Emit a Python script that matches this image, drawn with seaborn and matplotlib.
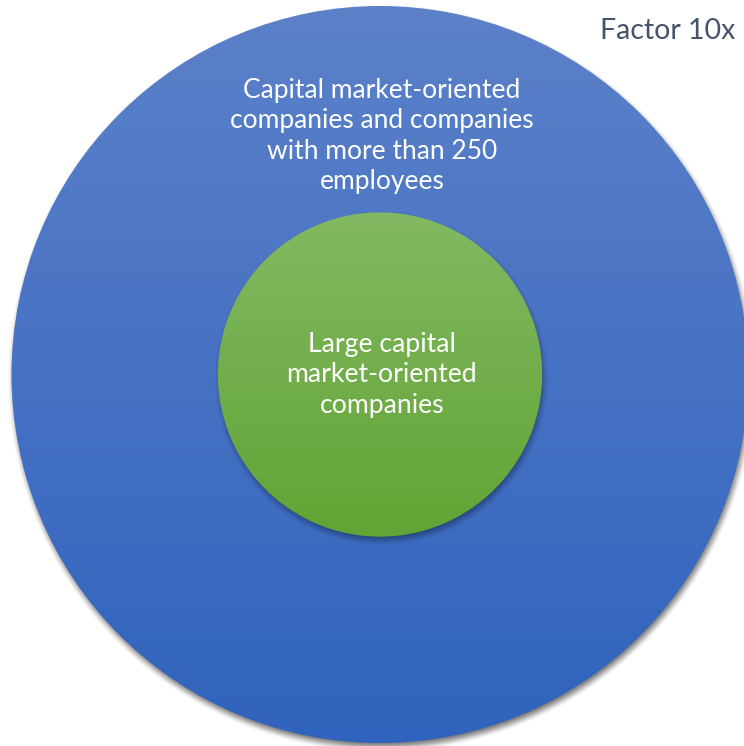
import numpy as np
import matplotlib
matplotlib.use("Agg")
import matplotlib.pyplot as plt
from matplotlib.patches import Circle
import seaborn as sns

# ---- data ----
labels = ["Capital market-oriented\ncompanies and companies\nwith more than 250\nemployees",
          "Large capital\nmarket-oriented\ncompanies"]
rel_size = [1.0, 0.44]          # relative radius of each group
top_colors = ["#5c81c9", "#82b962"]
bottom_colors = ["#3063bd", "#62a435"]
factor_label = "Factor 10x"

sns.set_theme(style="white")
plt.rcParams['font.family'] = ['Lato', 'DejaVu Sans']

W, H = 744, 746
fig = plt.figure(figsize=(W / 100, H / 100), dpi=100)
ax = fig.add_axes([0, 0, 1, 1])
ax.set_xlim(0, W)
ax.set_ylim(H, 0)
ax.axis("off")

cx, cy = 380, 374.5
R0 = 368.5
yy, xx = np.mgrid[0:H, 0:W] + 0.5


def hex2rgb(h):
    return np.array(matplotlib.colors.to_rgb(h))


def smooth(a, b, x):
    t = np.clip((x - a) / (b - a), 0, 1)
    return t * t * (3 - 2 * t)


for i, (lab, s) in enumerate(zip(labels, rel_size)):
    R = R0 * s
    # shadow
    d = np.hypot(xx - (cx + 1.5), yy - (cy + 4))
    alpha = (0.55 if i == 0 else 0.35) * (1 - smooth(R - 6, R + 6, d))
    sh = np.zeros((H, W, 4))
    sh[..., 3] = alpha
    ax.imshow(sh, extent=[0, W, H, 0], zorder=2 * i + 1, interpolation="bilinear")
    # gradient fill
    t = np.clip((yy - (cy - R)) / (2 * R), 0, 1)[..., None]
    c = hex2rgb(top_colors[i]) * (1 - t) + hex2rgb(bottom_colors[i]) * t
    img = np.concatenate([c, np.ones((H, W, 1))], axis=2)
    im = ax.imshow(img, extent=[0, W, H, 0], zorder=2 * i + 2, interpolation="bilinear")
    patch = Circle((cx, cy), R, transform=ax.transData, facecolor="none", edgecolor="none")
    ax.add_patch(patch)
    im.set_clip_path(patch)

ax.text(382, 136, labels[0], ha="center", va="center", color="white",
        fontsize=19, linespacing=1.28, zorder=10)
ax.text(382, 375, labels[1], ha="center", va="center", color="white",
        fontsize=19.2, linespacing=1.28, zorder=10)
ax.text(735, 31, factor_label, ha="right", va="center", color="#44546a",
        fontsize=20.5, zorder=10)

ax.set_xlim(0, W)
ax.set_ylim(H, 0)
fig.savefig("out.png", dpi=100)
